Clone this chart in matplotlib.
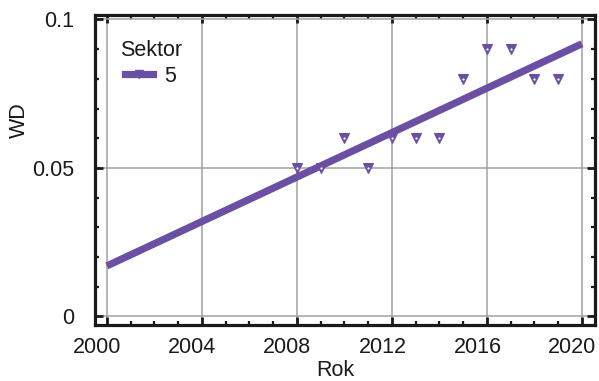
import numpy as np
import matplotlib
matplotlib.use("Agg")
import matplotlib.pyplot as plt
from matplotlib.ticker import MultipleLocator, FixedLocator
from matplotlib.lines import Line2D
from matplotlib.transforms import ScaledTranslation

plt.rcParams['font.family'] = ['Liberation Sans', 'DejaVu Sans']

years = [2008, 2009, 2010, 2011, 2012, 2013, 2014, 2015, 2016, 2017, 2018, 2019]
wd = [0.05, 0.05, 0.06, 0.05, 0.06, 0.06, 0.06, 0.08, 0.09, 0.09, 0.08, 0.08]
sector = "5"
legend_title = "Sektor"
xticks = [2000, 2004, 2008, 2012, 2016, 2020]
yticks = [0, 0.05, 0.1]
ytick_labels = ["0", "0.05", "0.1"]

purple = "#6A4FA3"
ink = "#1a1a1a"
fs = 15.5

fig = plt.figure(figsize=(5.99, 3.81), dpi=100)
ax = fig.add_axes([95 / 599, 1 - 325 / 381, (595 - 95) / 599, (325 - 15) / 381])

# linear trend over the whole period
coef = np.polyfit(years, wd, 1)
xf = np.array([2000, 2020])
ax.plot(xf, np.polyval(coef, xf), color=purple, lw=5.2, solid_capstyle='butt', zorder=3)
ax.plot(years, wd, linestyle='none', marker='v', ms=6.5, mfc=purple,
        mec=purple, mew=0.8, zorder=4)
ax.plot(years, wd, linestyle='none', marker='o', ms=1.6, mfc='white',
        mec='none', zorder=5)

ax.set_xlim(1999.5, 2020.55)
ax.set_ylim(-0.0029, 0.1015)
ax.xaxis.set_major_locator(FixedLocator(xticks))
ax.set_xticklabels([str(t) for t in xticks])
ax.xaxis.set_minor_locator(MultipleLocator(1))
ax.yaxis.set_major_locator(FixedLocator(yticks))
ax.set_yticklabels(ytick_labels)
ax.yaxis.set_minor_locator(MultipleLocator(0.01))
ax.grid(True, which='major', color='#a0a0a0', lw=1.1)
ax.set_axisbelow(True)

ax.tick_params(which='both', direction='in', top=True, right=True,
               labelsize=fs, color=ink, labelcolor=ink)
ax.tick_params(which='major', length=5.5, width=2)
ax.tick_params(axis='x', which='major', pad=8.5)
ax.tick_params(axis='y', which='major', pad=15)
ax.tick_params(which='minor', length=3, width=1.6)
for s in ax.spines.values():
    s.set_linewidth(2.3)
    s.set_color(ink)

# year labels sit slightly left of their ticks
shift = ScaledTranslation(-9.5 / 100, 0, fig.dpi_scale_trans)
for lab in ax.xaxis.get_ticklabels():
    lab.set_transform(lab.get_transform() + shift)

ax.set_xlabel("Rok", fontsize=fs, color=ink, va='center')
ax.xaxis.set_label_coords((335.5 - 95) / 500, -(370 - 325) / 310)
ax.set_ylabel("WD", fontsize=fs, color=ink, va='center', ha='center')
ax.yaxis.set_label_coords((19 - 95) / 500, (325 - 120) / 310)

# legend: heading above an indented entry
fig.text(120 / 599, 1 - 51 / 381, legend_title, fontsize=fs, color=ink,
         ha='left', va='center')
handle = Line2D([], [], color=purple, lw=5.2, marker='v', ms=5.5, mfc=purple, mec=purple)
leg = ax.legend([handle], [sector], loc='center left',
                frameon=False, fontsize=fs,
                handlelength=1.3, handletextpad=0.5, borderpad=0, borderaxespad=0,
                bbox_to_anchor=(125 / 599, 1 - 76 / 381), bbox_transform=fig.transFigure)
for t in leg.get_texts():
    t.set_color(ink)

fig.savefig("out.png", dpi=100)
